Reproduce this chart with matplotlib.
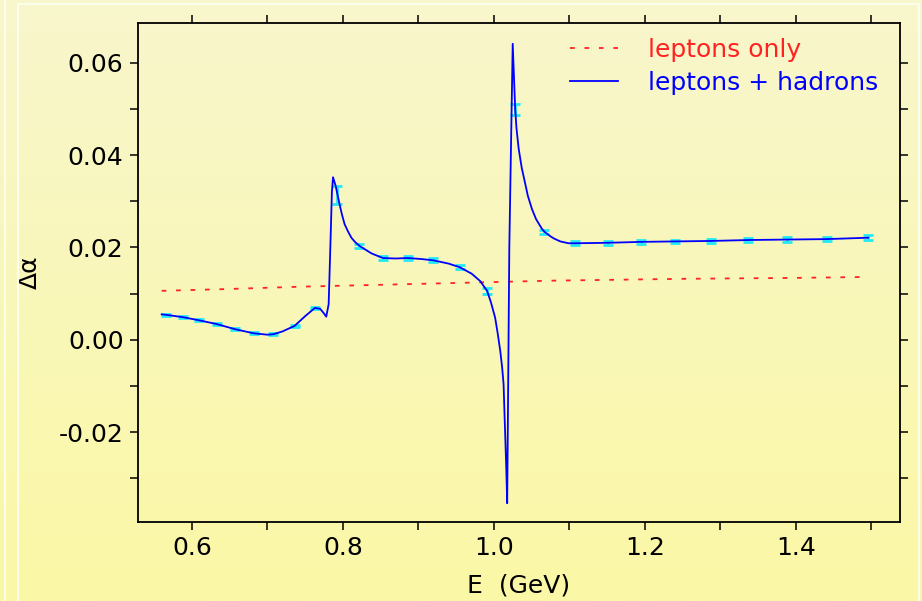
import numpy as np
import matplotlib
matplotlib.use("Agg")
import matplotlib.pyplot as plt
from matplotlib.lines import Line2D
from matplotlib.ticker import MultipleLocator

# leptons only (red dashed)
lep_e = [0.560, 0.650, 0.745, 0.849, 0.950, 1.077, 1.250, 1.400, 1.495]
lep_da = [0.0106, 0.0110, 0.0115, 0.0119, 0.0123, 0.0128, 0.0132, 0.0134, 0.0136]

# leptons + hadrons (blue curve)
had_e = [0.560, 0.566, 0.588, 0.610, 0.633, 0.657, 0.682, 0.700, 0.708, 0.720,
         0.736, 0.750, 0.763, 0.770, 0.775, 0.778, 0.7812, 0.7838, 0.7855, 0.787,
         0.7905, 0.7957, 0.799, 0.8024, 0.807, 0.8113, 0.816, 0.8223, 0.838, 0.853,
         0.870, 0.886, 0.903, 0.920, 0.940, 0.955, 0.9707, 0.982, 0.991, 0.996,
         1.0017, 1.005, 1.0085, 1.011, 1.0129, 1.0150, 1.0165, 1.0177, 1.0205, 1.0250,
         1.0283, 1.0300, 1.0328, 1.0350, 1.0370, 1.0417, 1.0450, 1.0505, 1.0560, 1.0638,
         1.067, 1.075, 1.080, 1.088, 1.099, 1.108, 1.151, 1.195, 1.240, 1.288,
         1.337, 1.388, 1.441, 1.496]
had_da = [0.0055, 0.0054, 0.0049, 0.0042, 0.0034, 0.0023, 0.0014, 0.0011, 0.0012, 0.0018,
          0.0030, 0.0051, 0.0069, 0.0067, 0.0057, 0.0050, 0.0077, 0.0221, 0.0320, 0.0352,
          0.0333, 0.0293, 0.0270, 0.0250, 0.0234, 0.0221, 0.0212, 0.0203, 0.0187, 0.0177,
          0.0176, 0.0177, 0.0175, 0.0172, 0.0165, 0.0157, 0.0143, 0.0127, 0.0106, 0.0082,
          0.0048, 0.0015, -0.0024, -0.0060, -0.0096, -0.0204, -0.0280, -0.0354, 0.0200, 0.0641,
          0.0499, 0.0458, 0.0415, 0.0392, 0.0372, 0.0337, 0.0312, 0.0283, 0.0261, 0.0240,
          0.0234, 0.0224, 0.0219, 0.0213, 0.0209, 0.0209, 0.0210, 0.0212, 0.0213, 0.0214,
          0.0216, 0.0217, 0.0218, 0.0221]

# data points with errors (cyan)
pt_e = [0.566, 0.588, 0.610, 0.633, 0.657, 0.682, 0.708, 0.736, 0.763, 0.792,
        0.822, 0.853, 0.886, 0.920, 0.955, 0.991, 1.028, 1.067, 1.108, 1.151,
        1.195, 1.240, 1.288, 1.337, 1.388, 1.441, 1.496]
pt_da = [0.0054, 0.0049, 0.0042, 0.0034, 0.0023, 0.0014, 0.0012, 0.0030, 0.0069, 0.0313,
         0.0203, 0.0177, 0.0177, 0.0172, 0.0157, 0.0106, 0.0499, 0.0234, 0.0209, 0.0210,
         0.0212, 0.0213, 0.0214, 0.0216, 0.0217, 0.0218, 0.0221]
pt_err = [0.0002, 0.0002, 0.0002, 0.0002, 0.0002, 0.0002, 0.0002, 0.0002, 0.0002, 0.0020,
          0.0005, 0.0004, 0.0005, 0.0004, 0.0004, 0.0007, 0.0012, 0.0004, 0.0004, 0.0004,
          0.0004, 0.0004, 0.0005, 0.0005, 0.0005, 0.0005, 0.0005]

plt.rcParams["font.family"] = ["DejaVu Sans"]

fig = plt.figure(figsize=(9.22, 6.01), dpi=100)

# background gradient + decorative frame
bg = fig.add_axes([0, 0, 1, 1], zorder=-10)
top = np.array([248, 246, 204]) / 255
bot = np.array([251, 248, 166]) / 255
t = np.linspace(0, 1, 256)[:, None]
grad = (1 - t) * top + t * bot
bg.imshow(grad[:, None, :], aspect="auto", extent=[0, 1, 0, 1])
bg.set_axis_off()
fc = "#fdfdec"
fig.add_artist(Line2D([5 / 922, 5 / 922], [0, 1], color=fc, lw=1.5))
fig.add_artist(Line2D([18 / 922, 18 / 922], [0, 1 - 4 / 601], color=fc, lw=1.5))
fig.add_artist(Line2D([18 / 922, 919 / 922], [1 - 4 / 601, 1 - 4 / 601], color=fc, lw=1.5))
fig.add_artist(Line2D([919 / 922, 919 / 922], [0, 1 - 4 / 601], color=fc, lw=1.5))

ax = fig.add_axes([137.5 / 922, 1 - 521.7 / 601, (900 - 137.5) / 922, (521.7 - 23) / 601])
ax.set_facecolor("none")

ax.plot(lep_e, lep_da, color="#ff2222", lw=1.3, linestyle=(0, (2.6, 5.4)), label="leptons only", zorder=2)
ax.errorbar(pt_e, pt_da, yerr=pt_err, fmt="none", ecolor="#22eaf2", elinewidth=2,
            capsize=3.5, capthick=2, zorder=2)
ax.plot(had_e, had_da, color="#0000ff", lw=1.3, label="leptons + hadrons", zorder=3)

ax.set_xlim(0.528, 1.538)
ax.set_ylim(-0.0394, 0.0686)
ax.xaxis.set_major_locator(MultipleLocator(0.2))
ax.xaxis.set_minor_locator(MultipleLocator(0.1))
ax.yaxis.set_major_locator(MultipleLocator(0.02))
ax.yaxis.set_minor_locator(MultipleLocator(0.01))
ax.xaxis.set_major_formatter(lambda v, p: f"{v:.1f}")
ax.yaxis.set_major_formatter(lambda v, p: f"{v:.2f}")
ax.tick_params(which="both", direction="out", length=6, width=1.1,
               top=True, right=True, labelsize=18, pad=4)
for s in ax.spines.values():
    s.set_linewidth(1.3)

ax.set_xlabel("E  (GeV)", fontsize=18, labelpad=10)
ax.set_ylabel("Δα", fontsize=18, labelpad=12)

ax.legend(loc="upper left", bbox_to_anchor=(570 / 922, 1 - 38 / 601), bbox_transform=fig.transFigure,
          frameon=False, fontsize=18, handlelength=1.9, handletextpad=1.2,
          labelspacing=0.35, borderpad=0, borderaxespad=0, labelcolor="linecolor")

fig.savefig("out.png", dpi=100)
